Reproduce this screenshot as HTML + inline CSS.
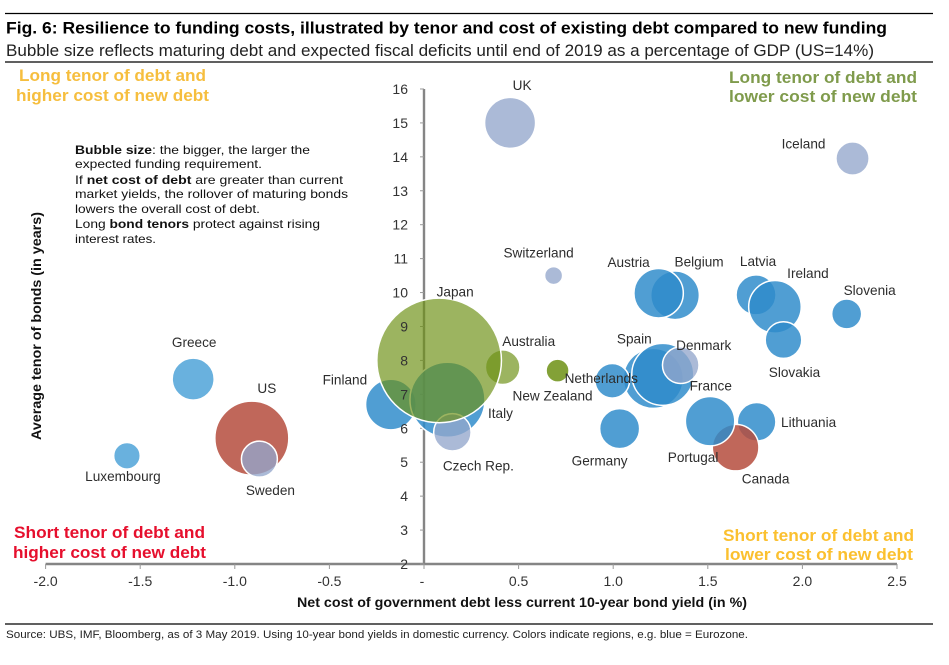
<!DOCTYPE html>
<html>
<head>
<meta charset="utf-8">
<title>Resilience to funding costs</title>
<style>
html,body{margin:0;padding:0;background:#fff;}
body{width:949px;height:665px;overflow:hidden;}
svg{display:block;font-family:"Liberation Sans",sans-serif;}
</style>
</head>
<body>
<svg id="chart" width="949" height="665" viewBox="0 0 949 665">
  <line x1="5" x2="933" y1="13.5" y2="13.5" stroke="#000" stroke-width="1.2"/>
  <text x="6" y="33.5" font-size="17" font-weight="bold" fill="#000" textLength="881" lengthAdjust="spacingAndGlyphs">Fig. 6: Resilience to funding costs, illustrated by tenor and cost of existing debt compared to new funding</text>
  <text x="6" y="56" font-size="17" fill="#222" textLength="868" lengthAdjust="spacingAndGlyphs">Bubble size reflects maturing debt and expected fiscal deficits until end of 2019 as a percentage of GDP (US=14%)</text>
  <line x1="5" x2="933" y1="62" y2="62" stroke="#000" stroke-width="1.2"/>

  <g id="axes"></g>
  <g id="bubbles"></g>
  <g id="ticklabels"></g>
  <g id="labels"></g>

  <g font-weight="bold" font-size="16.5">
    <text x="19" y="81" fill="#f6be3e" textLength="187" lengthAdjust="spacingAndGlyphs">Long tenor of debt and</text>
    <text x="16" y="101" fill="#f6be3e" textLength="193" lengthAdjust="spacingAndGlyphs">higher cost of new debt</text>
    <text x="729" y="83" fill="#7f9b4c" textLength="188" lengthAdjust="spacingAndGlyphs">Long tenor of debt and</text>
    <text x="729" y="102" fill="#7f9b4c" textLength="188" lengthAdjust="spacingAndGlyphs">lower cost of new debt</text>
    <text x="14" y="538" fill="#e60f2d" textLength="191" lengthAdjust="spacingAndGlyphs">Short tenor of debt and</text>
    <text x="13" y="558" fill="#e60f2d" textLength="193" lengthAdjust="spacingAndGlyphs">higher cost of new debt</text>
    <text x="723" y="541" fill="#fbc02f" textLength="191" lengthAdjust="spacingAndGlyphs">Short tenor of debt and</text>
    <text x="725" y="560" fill="#fbc02f" textLength="188" lengthAdjust="spacingAndGlyphs">lower cost of new debt</text>
  </g>

  <g font-size="12" fill="#111">
    <text x="75" y="154" textLength="235" lengthAdjust="spacingAndGlyphs"><tspan font-weight="bold">Bubble size</tspan>: the bigger, the larger the</text>
    <text x="75" y="168" textLength="187" lengthAdjust="spacingAndGlyphs">expected funding requirement.</text>
    <text x="75" y="184" textLength="268" lengthAdjust="spacingAndGlyphs">If <tspan font-weight="bold">net cost of debt</tspan> are greater than current</text>
    <text x="75" y="198" textLength="273" lengthAdjust="spacingAndGlyphs">market yields, the rollover of maturing bonds</text>
    <text x="75" y="213" textLength="185" lengthAdjust="spacingAndGlyphs">lowers the overall cost of debt.</text>
    <text x="75" y="228" textLength="245" lengthAdjust="spacingAndGlyphs">Long <tspan font-weight="bold">bond tenors</tspan> protect against rising</text>
    <text x="75" y="243" textLength="81" lengthAdjust="spacingAndGlyphs">interest rates.</text>
  </g>

  <text x="297" y="607" font-size="13.5" font-weight="bold" fill="#111" textLength="450" lengthAdjust="spacingAndGlyphs">Net cost of government debt less current 10-year bond yield (in %)</text>
  <text transform="translate(41,440) rotate(-90)" font-size="13.5" font-weight="bold" fill="#111" textLength="228" lengthAdjust="spacingAndGlyphs">Average tenor of bonds (in years)</text>

  <line x1="5" x2="933" y1="624" y2="624" stroke="#000" stroke-width="1.2"/>
  <text x="6" y="638" font-size="11" fill="#222" textLength="742" lengthAdjust="spacingAndGlyphs">Source: UBS, IMF, Bloomberg, as of 3 May 2019. Using 10-year bond yields in domestic currency. Colors indicate regions, e.g. blue = Eurozone.</text>
</svg>
<script>
var countries = ["Greece","Luxembourg","US","Sweden","Finland","Italy","Czech Rep.","Australia","Japan","New Zealand","Switzerland","UK","Iceland","Belgium","Austria","Latvia","Ireland","Slovakia","Slovenia","Spain","France","Netherlands","Denmark","Germany","Lithuania","Canada","Portugal"];
var netCost = [-1.22,-1.57,-0.91,-0.87,-0.175,0.124,0.15,0.416,0.08,0.706,0.685,0.455,2.265,1.327,1.24,1.755,1.855,1.9,2.234,1.212,1.262,0.995,1.357,1.034,1.758,1.647,1.512];
var tenor = [7.45,5.19,5.71,5.09,6.7,6.84,5.88,7.8,8.0,7.7,10.5,15.0,13.95,9.92,9.98,9.93,9.58,8.6,9.37,7.47,7.59,7.4,7.86,5.99,6.19,5.43,6.21];
var bubbleSize = [4.51,1.81,14,3.31,6.55,14.4,3.58,3.06,39.7,1.35,0.83,6.65,2.82,6.04,6.24,4.09,7.07,3.42,2.3,9.2,9.83,3.06,3.42,4.09,3.81,5.55,6.24];
var regions = ["periphery","periphery","americas","europe","eurozone","eurozone","europe","oceania","japan","nz","europe","europe","europe","eurozone","eurozone","eurozone","eurozone","eurozone","eurozone","eurozone","eurozone","eurozone","europe","eurozone","eurozone","americas","eurozone"];
var xTickValues = [-2,-1.5,-1,-0.5,0,0.5,1,1.5,2,2.5];
var xTickLabels = ["-2.0","-1.5","-1.0","-0.5","-","0.5","1.0","1.5","2.0","2.5"];
var yTickValues = [2,3,4,5,6,7,8,9,10,11,12,13,14,15,16];
var yTickLabels = ["2","3","4","5","6","7","8","9","10","11","12","13","14","15","16"];

var NS = "http://www.w3.org/2000/svg";
var regionStyle = {
  eurozone: {fill:"#2f8cca", a:0.84},
  periphery: {fill:"#4fa3d8", a:0.85},
  americas: {fill:"#b54c3d", a:0.85},
  europe: {fill:"#93a6cc", a:0.78},
  oceania: {fill:"#6d9114", a:0.68},
  japan: {fill:"#6d9114", a:0.68},
  nz: {fill:"#6d9114", a:0.85}
};
var labelOffset = {
  "Greece":[1,-32],"Luxembourg":[-4,25],"US":[15,-45],"Sweden":[11,36],"Finland":[-46,-20],
  "Italy":[53,18],"Czech Rep.":[26,38],"Australia":[26,-21],"Japan":[16,-64],"New Zealand":[-5,30],
  "Switzerland":[-15,-18],"UK":[12,-33],"Iceland":[-49,-10],"Belgium":[24,-29],"Austria":[-30,-26],
  "Latvia":[2,-29],"Ireland":[33,-29],"Slovakia":[11,37],"Slovenia":[23,-19],"Spain":[-19,-35],
  "France":[48,16],"Netherlands":[-11,2],"Denmark":[23,-15],"Germany":[-20,37],"Lithuania":[52,5],
  "Canada":[30,36],"Portugal":[-17,41]
};
function xScale(v){ return 424 + v * 189.2; }
function yScale(v){ return 564 - (v - 2) * 33.93; }
function rScale(v){ return 37 * Math.sqrt(v / 14); }
function slug(s){ return s.toLowerCase().replace(/[^a-z]+/g, "-").replace(/-$/, ""); }
function make(tag, attrs, parent){
  var el = document.createElementNS(NS, tag);
  for (var k in attrs) el.setAttribute(k, attrs[k]);
  parent.appendChild(el);
  return el;
}
var axesG = document.getElementById("axes");
var tickG = document.getElementById("ticklabels");
var bubblesG = document.getElementById("bubbles");
var labelsG = document.getElementById("labels");

var xAxis = make("line", {x1:xScale(-2), x2:xScale(2.5), y1:yScale(2), y2:yScale(2), stroke:"#858585", "stroke-width":2.4}, axesG);


var yAxis = make("line", {x1:xScale(0), x2:xScale(0), y1:yScale(2), y2:yScale(16), stroke:"#858585", "stroke-width":2.4}, axesG);



xTickValues.forEach(function(v, i){
  var t = make("line", {x1:xScale(v), x2:xScale(v), y1:yScale(2), y2:yScale(2) + 5, stroke:"#999", "stroke-width":1}, axesG);
  
  
  var l = make("text", {x:xScale(v) + (v === 0 ? -2 : 0), y:586, "font-size":14, fill:"#333", "text-anchor":"middle"}, tickG);
  
  
  l.textContent = xTickLabels[i];
});
yTickValues.forEach(function(v, i){
  var t = make("line", {x1:xScale(0) - 4, x2:xScale(0), y1:yScale(v), y2:yScale(v), stroke:"#999", "stroke-width":1}, axesG);
  
  
  var l = make("text", {x:408, y:yScale(v) + 5, "font-size":14, fill:"#333", "text-anchor":"end"}, tickG);
  
  
  l.textContent = yTickLabels[i];
});
countries.forEach(function(name, i){
  var st = regionStyle[regions[i]];
  var px = xScale(netCost[i]), py = yScale(tenor[i]);
  var c = make("circle", {cx:px, cy:py, r:rScale(bubbleSize[i]), fill:st.fill, "fill-opacity":st.a, stroke:"#fff", "stroke-width":1.5}, bubblesG);
  
  
  var off = labelOffset[name];
  var t = make("text", {x:px + off[0], y:py + off[1], "font-size":13.6, fill:"#2d2d2d", "text-anchor":"middle"}, labelsG);
  
  
  t.textContent = name;
});
</script>
</body>
</html>
